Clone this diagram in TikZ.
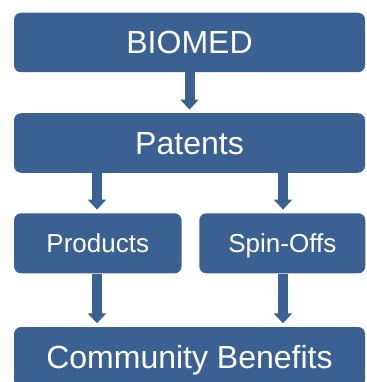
\documentclass[tikz,border=0pt]{standalone}
\usepackage{fontspec}
\setmainfont{Liberation Sans}
\usetikzlibrary{arrows.meta}
\definecolor{boxblue}{RGB}{58,97,146}
\begin{document}
\begin{tikzpicture}[x=1pt,y=-1pt,
  box/.style={fill=boxblue, draw=none, rounded corners=7pt, inner sep=0pt,
    text=white, text depth=0pt, anchor=center},
  bigbox/.style={box, minimum width=351pt, minimum height=59.5pt,
    font=\fontsize{32}{36}\selectfont, text height=23pt},
  smallbox/.style={box, minimum height=60pt,
    font=\fontsize{26}{30}\selectfont, text height=18.6pt},
  flow/.style={draw=boxblue, line width=10pt,
    -{Triangle[width=18pt,length=10pt]}, shorten >=3.5pt}
]
\useasboundingbox (0,0) rectangle (366,382);
\node[bigbox] (biomed) at (189.5,42.5) {BIOMED};
\node[bigbox] (patents) at (189.5,143) {Patents};
\node[smallbox, minimum width=167.5pt] (products) at (97.8,243.3) {Products};
\node[smallbox, minimum width=166pt] (spinoffs) at (282.3,243.3) {Spin-Offs};
\node[bigbox, minimum height=60pt] (community) at (189.5,357) {Community Benefits};
\draw[flow] (biomed.south) -- (patents.north);
\draw[flow] ([xshift=-0.8pt]products.north |- patents.south) -- ([xshift=-0.8pt]products.north);
\draw[flow] ([xshift=0.7pt]spinoffs.north |- patents.south) -- ([xshift=0.7pt]spinoffs.north);
\draw[flow] ([xshift=-0.8pt]products.south) -- ([xshift=-0.8pt]products.south |- community.north);
\draw[flow] ([xshift=0.7pt]spinoffs.south) -- ([xshift=0.7pt]spinoffs.south |- community.north);
\end{tikzpicture}
\end{document}
